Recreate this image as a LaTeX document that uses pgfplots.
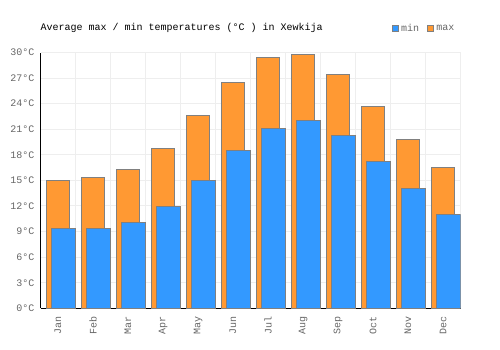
\documentclass[border=0pt]{standalone}
\usepackage{fontspec}
\setmainfont{Liberation Mono}
\usepackage{pgfplots}
\pgfplotsset{compat=1.18}
\definecolor{minblue}{RGB}{51,153,255}
\definecolor{maxorange}{RGB}{255,153,51}
\definecolor{bordergray}{RGB}{128,128,128}
\definecolor{gridgray}{RGB}{238,238,238}
\definecolor{labelgray}{RGB}{102,102,102}
\begin{document}
\begin{tikzpicture}
\path[use as bounding box] (-40.5bp,-41.7bp) rectangle (459.5bp,308.3bp);
\begin{axis}[
  name=ax,
  scale only axis, width=420bp, height=255.8bp,
  xmin=-0.5, xmax=11.5, ymin=0, ymax=30,
  xtick={0,...,11},
  xticklabels={Jan,Feb,Mar,Apr,May,Jun,Jul,Aug,Sep,Oct,Nov,Dec},
  minor xtick={-0.5,0.5,...,11.5},
  ytick={0,3,...,30},
  xmajorgrids=false, xminorgrids=true, ymajorgrids=true,
  major grid style={gridgray, line width=1bp},
  minor grid style={gridgray, line width=1bp},
  axis x line*=bottom, axis y line*=left,
  axis line style={black, line width=1bp, -},
  major tick length=0pt, minor tick length=0pt,
  /pgf/number format/assume math mode=true,
  tick label style={font=\fontsize{10bp}{12bp}\selectfont, text=labelgray, inner sep=0pt},
  yticklabel={\pgfmathprintnumber{\tick}°C},
  yticklabel style={anchor=east},
  yticklabel shift=6bp,
  xticklabel style={rotate=90, anchor=east},
  xticklabel shift=8bp,
  legend columns=2,
  legend style={draw=none, fill=none, inner sep=0pt, outer sep=0pt,
    at={(rel axis cs:0.836,1.094)}, anchor=west,
    font=\fontsize{10bp}{12bp}\selectfont, text=labelgray,
    nodes={inner sep=0pt},
    /tikz/every odd column/.append style={column sep=2.5bp},
    /tikz/every even column/.append style={column sep=7.5bp}},
  legend image code/.code={\draw[#1] (0bp,-3.3bp) rectangle (6.3bp,3.5bp);},
]
\addlegendimage{fill=minblue, draw=bordergray, line width=0.8bp}
\addlegendentry{min}
\addlegendimage{fill=maxorange, draw=bordergray, line width=0.8bp}
\addlegendentry{max}
\addplot[ybar, bar width=0.657, bar shift=0, fill=maxorange, draw=bordergray, line width=1bp, forget plot]
 coordinates {(0,15.0) (1,15.3) (2,16.3) (3,18.7) (4,22.6) (5,26.5) (6,29.45) (7,29.8) (8,27.45) (9,23.7) (10,19.8) (11,16.5)};
\addplot[ybar, bar width=0.69, bar shift=0.155, fill=minblue, draw=bordergray, line width=1bp, forget plot]
 coordinates {(0,9.4) (1,9.4) (2,10.1) (3,11.9) (4,15.0) (5,18.5) (6,21.1) (7,22.05) (8,20.3) (9,17.2) (10,14.0) (11,11.0)};
\end{axis}
\node[anchor=base west, inner sep=0pt, font=\fontsize{10bp}{12bp}\selectfont] at ([yshift=22bp]ax.north west) {Average max / min temperatures (°C ) in Xewkija};
\end{tikzpicture}
\end{document}
